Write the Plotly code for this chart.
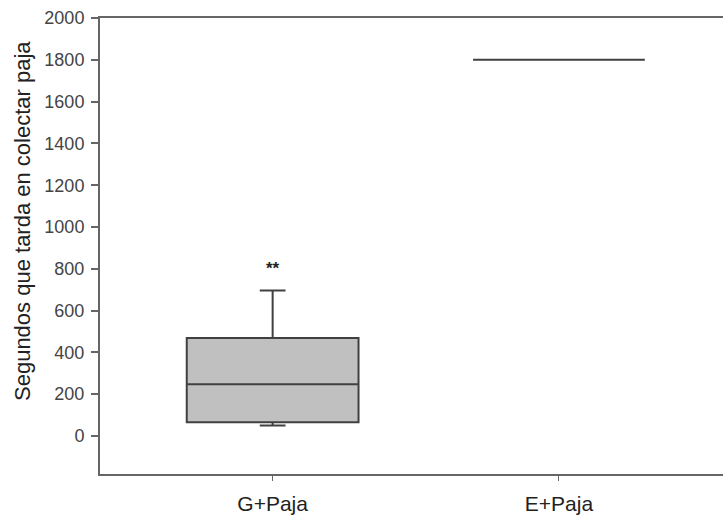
import plotly.graph_objects as go

categories = ["G+Paja", "E+Paja"]
q1 = [66, 1800]
median = [248, 1800]
q3 = [469, 1800]
lower_whisker = [50, 1800]
upper_whisker = [696, 1800]
y_ticks = [0, 200, 400, 600, 800, 1000, 1200, 1400, 1600, 1800, 2000]
sig_label = "**"
sig_y = 800

FONT = "Liberation Sans, Arial, sans-serif"

fig = go.Figure()
for i, c in enumerate(categories):
    fig.add_trace(go.Box(
        x=[c], q1=[q1[i]], median=[median[i]], q3=[q3[i]],
        lowerfence=[lower_whisker[i]], upperfence=[upper_whisker[i]],
        width=0.6, whiskerwidth=0.15,
        fillcolor="#c0c0c0", line=dict(color="#404040", width=2),
        boxpoints=False, showlegend=False,
    ))

fig.add_annotation(x=categories[0], y=sig_y, text="<b>" + sig_label + "</b>", showarrow=False,
                   font=dict(family=FONT, size=17, color="#222"))
fig.add_annotation(xref="paper", yref="paper", x=0, y=0.5, xshift=-78, yshift=25,
                   text="Segundos que tarda en colectar paja", textangle=-90,
                   showarrow=False, xanchor="center", yanchor="middle",
                   font=dict(family=FONT, size=22, color="#222"))

fig.update_layout(
    width=723, height=517,
    margin=dict(l=100, r=0, t=18, b=43),
    paper_bgcolor="white", plot_bgcolor="white",
    font=dict(family=FONT, color="#333"),
    xaxis=dict(
        type="category", categoryorder="array", categoryarray=categories,
        range=[-0.603, 1.573],
        showline=True, linecolor="#666", linewidth=2, mirror=True,
        ticks="outside", ticklen=5, tickwidth=1, tickcolor="#666",
        tickfont=dict(family=FONT, size=21, color="#222"),
        ticklabelstandoff=5,
        showgrid=False, zeroline=False,
    ),
    yaxis=dict(
        range=[-182, 2000], tickvals=y_ticks,
        showline=True, linecolor="#666", linewidth=2, mirror=False,
        ticks="outside", ticklen=7, tickwidth=1.5, tickcolor="#666",
        tickfont=dict(family=FONT, size=18, color="#444"),
        ticklabelstandoff=3,
        showgrid=False, zeroline=False,
    ),
)

fig.write_html("out.html")
